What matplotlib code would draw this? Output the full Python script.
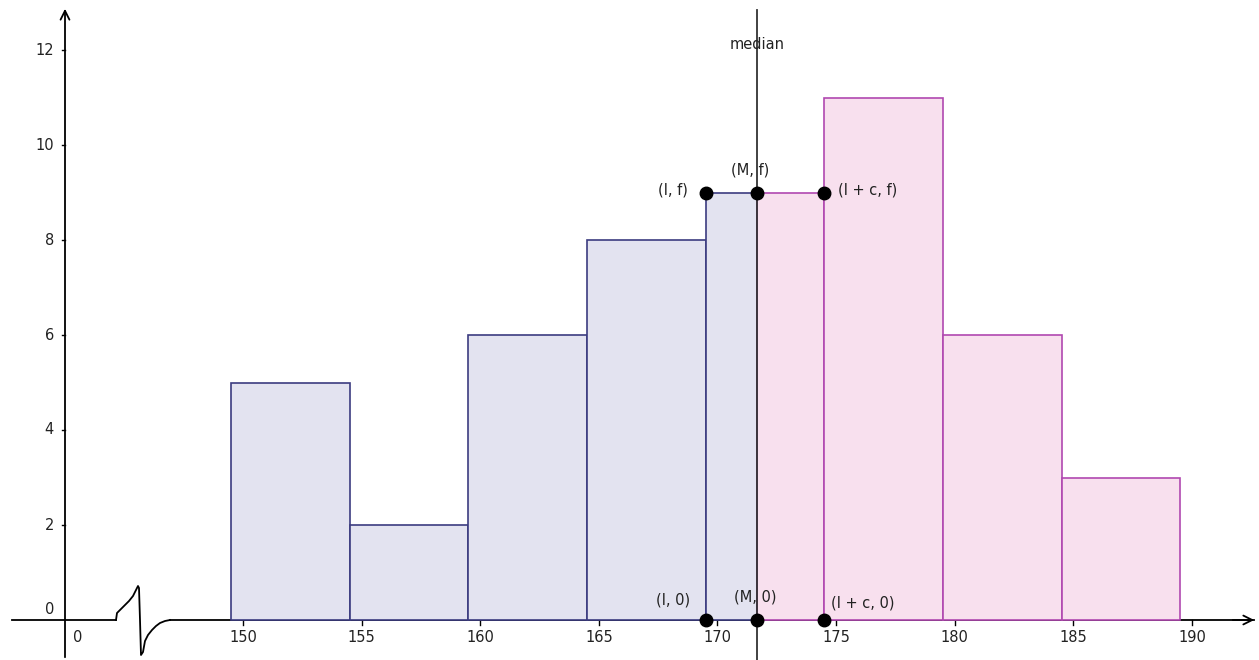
import matplotlib.pyplot as plt

# class boundaries and frequencies
edges = [149.5, 154.5, 159.5, 164.5, 169.5, 174.5, 179.5, 184.5, 189.5]
freqs = [5, 2, 6, 8, 9, 11, 6, 3]
median = 171.66
lower, width = 169.5, 5
xticks = [150, 155, 160, 165, 170, 175, 180, 185, 190]
yticks = [2, 4, 6, 8, 10, 12]

blue_fill, blue_edge = '#e3e3f0', '#3c3c80'
pink_fill, pink_edge = '#f8e0ee', '#b048b0'

# pixel -> data helpers (GeoGebra style view)
def px(x):
	return 150 + (x - 243) / 23.725

def py(y):
	return (620 - y) / 47.5

fig = plt.figure(figsize=(12.59, 6.6), dpi=100)
ax = fig.add_axes([0, 0, 1, 1])
ax.set_xlim(px(0), px(1259))
ax.set_ylim(py(660), py(0))
ax.axis('off')

font = dict(family='DejaVu Sans', fontsize=10.5, color='#222222', zorder=7)

# bars: blue left of median, pink right
for i, f in enumerate(freqs):
	a, b = edges[i], edges[i + 1]
	if b <= median:
		ax.bar(a, f, width=b - a, align='edge', color=blue_fill, edgecolor=blue_edge, linewidth=1.2, zorder=4)
	elif a >= median:
		ax.bar(a, f, width=b - a, align='edge', color=pink_fill, edgecolor=pink_edge, linewidth=1.2, zorder=4)
	else:
		ax.bar(a, f, width=median - a, align='edge', color=blue_fill, edgecolor=blue_edge, linewidth=1.2, zorder=4)
		ax.bar(median, f, width=b - median, align='edge', color=pink_fill, edgecolor=pink_edge, linewidth=1.2, zorder=4)

# axes lines
yaxis_x = px(65)
ax.plot([px(12), px(116)], [0, 0], color='black', lw=1.3, zorder=3)
sq_x = [116, 117, 121, 125, 129, 133, 136, 138, 139, 140, 141, 143, 145, 148, 152, 156, 160, 165, 170]
sq_y = [620, 613, 609, 605, 601, 596, 590, 586, 588, 620, 655, 652, 641, 635, 630, 626, 623, 621, 620]
ax.plot([px(v) for v in sq_x], [py(v) for v in sq_y], color='black', lw=1.3, zorder=3)
ax.plot([px(170), px(1254)], [0, 0], color='black', lw=1.3, zorder=3)
ax.annotate('', xy=(px(1257), 0), xytext=(px(1230), 0),
	arrowprops=dict(arrowstyle='->', color='black', lw=1.3, mutation_scale=16), zorder=3)
ax.annotate('', xy=(yaxis_x, py(6)), xytext=(yaxis_x, py(660)),
	arrowprops=dict(arrowstyle='->', color='black', lw=1.3, mutation_scale=16))

# median line
ax.plot([median, median], [py(660), py(10)], color='#333333', lw=1.3, zorder=5)
ax.text(median, py(44), 'median', ha='center', va='center', **font)

# ticks
for t in xticks:
	ax.plot([t, t], [0, py(625)], color='black', lw=1, zorder=3)
	ax.text(t, py(638), str(t), ha='center', va='center', **font)
for t in yticks:
	ax.plot([px(62), yaxis_x], [t, t], color='black', lw=1, zorder=3)
	ax.text(px(54), t, str(t), ha='right', va='center', **font)
ax.text(px(54), py(610), '0', ha='right', va='center', **font)
ax.text(px(78), py(638), '0', ha='center', va='center', **font)

# points
top = freqs[4]
pts_x = [lower, median, lower + width, lower, median, lower + width]
pts_y = [top, top, top, 0, 0, 0]
ax.plot(pts_x, pts_y, 'o', color='black', markersize=9, zorder=6)

ax.text(px(688), py(190), '(l, f)', ha='right', va='center', **font)
ax.text(px(750), py(170), '(M, f)', ha='center', va='center', **font)
ax.text(px(838), py(190), '(l + c, f)', ha='left', va='center', **font)
ax.text(px(690), py(600), '(l, 0)', ha='right', va='center', **font)
ax.text(px(755), py(597), '(M, 0)', ha='center', va='center', **font)
ax.text(px(831), py(603), '(l + c, 0)', ha='left', va='center', **font)

fig.savefig('out.png', dpi=100)
